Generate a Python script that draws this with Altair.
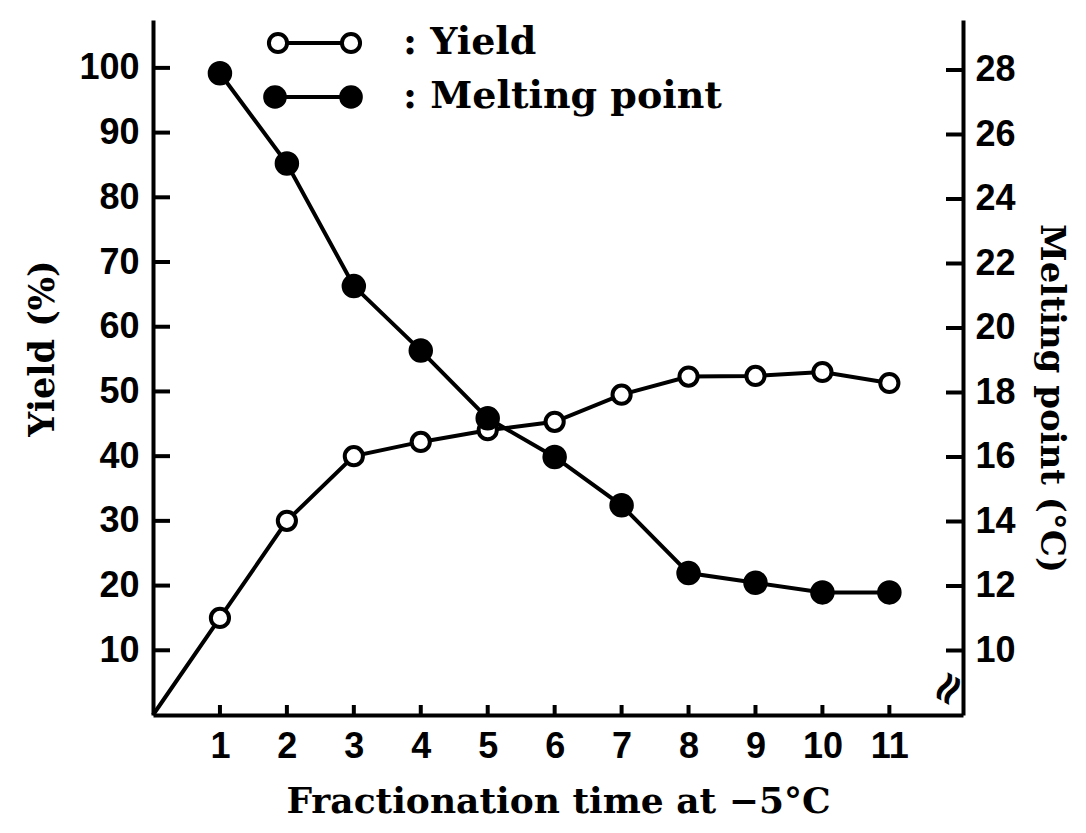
import altair as alt
import pandas as pd

# ---- data ----
time = [1, 2, 3, 4, 5, 6, 7, 8, 9, 10, 11]
yield_pct = [15.0, 30.0, 40.0, 42.2, 44.0, 45.3, 49.5, 52.3, 52.4, 53.0, 51.3]
melting_pt = [27.9, 25.1, 21.3, 19.3, 17.2, 16.0, 14.5, 12.4, 12.1, 11.8, 11.8]

yield_ticks = [10, 20, 30, 40, 50, 60, 70, 80, 90, 100]
melt_ticks = [10, 12, 14, 16, 18, 20, 22, 24, 26, 28]
x_ticks = [1, 2, 3, 4, 5, 6, 7, 8, 9, 10, 11]

legend_labels = [": Yield", ": Melting point"]

W, H = 810, 695
LABEL_FONT = "Liberation Sans"
TITLE_FONT = "DejaVu Serif"

df = pd.DataFrame({"time": time, "yield": yield_pct, "melt": melting_pt})
df_yline = pd.DataFrame({"time": [0] + time, "yield": [0.0] + yield_pct})
df_yt = pd.DataFrame({"time": [0] * len(yield_ticks), "yield": yield_ticks})
df_mt = pd.DataFrame({"time": [0] * len(melt_ticks), "melt": melt_ticks})
df_xt = pd.DataFrame({"time": x_ticks})

xscale = alt.Scale(domain=[0, 12.1], nice=False, zero=False)
yscale = alt.Scale(domain=[0, 107.4], nice=False, zero=False)
mscale = alt.Scale(domain=[8, 29.55], nice=False, zero=False)

x_axis = alt.Axis(
    values=x_ticks, ticks=False, grid=False, domainWidth=4, domainColor="black",
    labelFont=LABEL_FONT, labelFontSize=36, labelFontWeight="bold", labelColor="black",
    labelPadding=14, title="Fractionation time at \u22125\u00b0C", titleFont=TITLE_FONT,
    titleFontSize=36, titleFontWeight="bold", titleColor="black", titlePadding=20,
)

y_axis = alt.Axis(
    orient="left", values=yield_ticks, ticks=False, grid=False, domainWidth=4,
    domainColor="black", labelFont=LABEL_FONT, labelFontSize=36, labelFontWeight="bold",
    labelColor="black", labelPadding=14, title="Yield (%)", titleFont=TITLE_FONT,
    titleFontSize=35, titleFontWeight="bold", titleColor="black", titlePadding=18,
    titleY=328,
)

m_axis = alt.Axis(
    orient="right", values=melt_ticks, ticks=False, grid=False, domainWidth=4,
    domainColor="black", labelFont=LABEL_FONT, labelFontSize=36, labelFontWeight="bold",
    labelColor="black", labelPadding=12, title="Melting point (\u00b0C)", titleFont=TITLE_FONT,
    titleFontSize=34, titleFontWeight="bold", titleColor="black", titlePadding=18,
    titleAngle=90, titleY=378,
)

X = alt.X("time:Q", scale=xscale, axis=x_axis)
Y = alt.Y("yield:Q", scale=yscale, axis=y_axis)
M = alt.Y("melt:Q", scale=mscale, axis=m_axis)

base = alt.Chart(df)

# ---- yield layer (left axis) ----
yline = alt.Chart(df_yline).mark_line(color="black", strokeWidth=4).encode(x=X, y=Y)
ypts = base.mark_point(shape="circle", filled=True, fill="white", stroke="black",
                       strokeWidth=4, size=330, opacity=1).encode(x=X, y=Y)
yticks = alt.Chart(df_yt).mark_rule(color="black", strokeWidth=4).encode(
    x=alt.value(0), x2=alt.value(17), y=Y)
xticks = alt.Chart(df_xt).mark_rule(color="black", strokeWidth=4).encode(
    x=X, y=alt.value(H - 10), y2=alt.value(H))

# legend (drawn inside the plot, top-left)
leg0 = pd.DataFrame({"label": [legend_labels[0]]})
leg1 = pd.DataFrame({"label": [legend_labels[1]]})
LY0, LY1 = 23, 77
leg_line0 = alt.Chart(leg0).mark_rule(color="black", strokeWidth=4).encode(
    x=alt.value(125), x2=alt.value(198), y=alt.value(LY0))
leg_line1 = alt.Chart(leg1).mark_rule(color="black", strokeWidth=4).encode(
    x=alt.value(122), x2=alt.value(198), y=alt.value(LY1))
open_kw = dict(shape="circle", filled=True, fill="white", stroke="black",
               strokeWidth=4, size=330, opacity=1)
fill_kw = dict(shape="circle", filled=True, color="black", size=560, opacity=1)
leg_o1 = alt.Chart(leg0).mark_point(**open_kw).encode(x=alt.value(125), y=alt.value(LY0))
leg_o2 = alt.Chart(leg0).mark_point(**open_kw).encode(x=alt.value(198), y=alt.value(LY0))
leg_f1 = alt.Chart(leg1).mark_point(**fill_kw).encode(x=alt.value(122), y=alt.value(LY1))
leg_f2 = alt.Chart(leg1).mark_point(**fill_kw).encode(x=alt.value(198), y=alt.value(LY1))
text_kw = dict(align="left", baseline="middle", font=TITLE_FONT, fontSize=38,
               fontWeight="bold", color="black")
leg_t0 = alt.Chart(leg0).mark_text(**text_kw).encode(
    x=alt.value(250), y=alt.value(LY0), text="label:N")
leg_t1 = alt.Chart(leg1).mark_text(**text_kw).encode(
    x=alt.value(250), y=alt.value(LY1), text="label:N")

yield_layer = alt.layer(yline, ypts, yticks, xticks,
                        leg_line0, leg_line1, leg_o1, leg_o2, leg_f1, leg_f2,
                        leg_t0, leg_t1)

# ---- melting-point layer (right axis) ----
mline = base.mark_line(color="black", strokeWidth=4).encode(x=X, y=M)
mpts = base.mark_point(shape="circle", filled=True, color="black", size=600,
                       opacity=1).encode(x=X, y=M)
mticks = alt.Chart(df_mt).mark_rule(color="black", strokeWidth=4).encode(
    x=alt.value(W - 17), x2=alt.value(W), y=M)
brk_df = pd.DataFrame({"s": ["\u2248"]})
brk = alt.Chart(brk_df).mark_text(
    font="DejaVu Sans", fontSize=44, fontWeight="bold", angle=300, color="black").encode(
    x=alt.value(W - 14), y=alt.value(H - 26), text="s:N")

melt_layer = alt.layer(mline, mpts, mticks, brk)

chart = alt.layer(yield_layer, melt_layer).resolve_scale(
    y="independent"
).properties(
    width=W, height=H,
    autosize=alt.AutoSizeParams(type="none"),
    padding={"left": 145, "top": 12, "right": 112, "bottom": 110},
).configure(background="white").configure_view(stroke=None)

chart.save("out.html", embed_options={"renderer": "svg", "actions": False})
